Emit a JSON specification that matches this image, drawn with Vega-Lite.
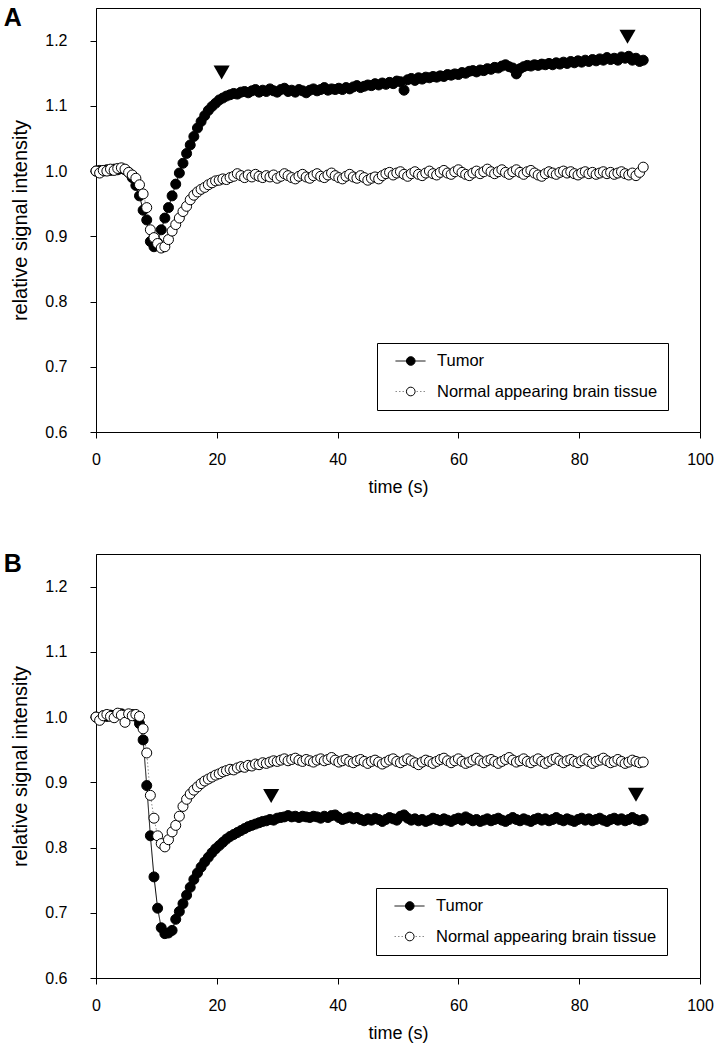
{
  "$schema": "https://vega.github.io/schema/vega-lite/v6.json",
  "background": "white",
  "padding": {"left": 3, "top": 5, "right": 5, "bottom": 5},
  "config": {
    "font": "Liberation Sans",
    "view": {"stroke": "black", "strokeWidth": 1},
    "axis": {"domainColor": "black", "tickColor": "black", "labelColor": "black", "titleColor": "black", "grid": false, "labelFontSize": 16, "titleFontSize": 18, "titleFontWeight": "normal", "tickSize": 6, "domainWidth": 1, "tickWidth": 1},
    "axisX": {"labelPadding": 13, "titlePadding": 11, "labelFlush": false},
    "axisY": {"labelPadding": 23, "titlePadding": 14, "titleFontSize": 20},
    "legend": {"clipHeight": 16, "padding": 10, "rowPadding": 13.5, "labelFontSize": 16.5, "labelLimit": 0, "title": null},
    "title": {"fontSize": 25, "fontWeight": "bold", "anchor": "start", "frame": "bounds", "baseline": "top", "offset": -23, "dx": -7, "color": "black"}
  },
  "datasets": {
    "A": [
      {"t":0,"Tumor":1.000,"Normal":1.000},{"t":0.6,"Tumor":1.001,"Normal":0.997},{"t":1.2,"Tumor":1.000,"Normal":1.001},{"t":1.8,"Tumor":1.002,"Normal":1.000},{"t":2.4,"Tumor":1.001,"Normal":1.003},{"t":3,"Tumor":1.003,"Normal":1.001},{"t":3.6,"Tumor":1.002,"Normal":1.004},{"t":4.2,"Tumor":1.004,"Normal":1.005},{"t":4.8,"Tumor":1.002,"Normal":1.003},{"t":5.4,"Tumor":0.998,"Normal":0.998},
      {"t":6,"Tumor":0.990,"Normal":0.994},{"t":6.6,"Tumor":0.978,"Normal":0.989},{"t":7.2,"Tumor":0.962,"Normal":0.979},{"t":7.8,"Tumor":0.940,"Normal":0.965},{"t":8.4,"Tumor":0.925,"Normal":0.944},{"t":9,"Tumor":0.892,"Normal":0.910},{"t":9.6,"Tumor":0.884,"Normal":0.898},{"t":10.2,"Tumor":0.890,"Normal":0.889},{"t":10.8,"Tumor":0.910,"Normal":0.882},{"t":11.4,"Tumor":0.928,"Normal":0.884},
      {"t":12,"Tumor":0.944,"Normal":0.895},{"t":12.6,"Tumor":0.962,"Normal":0.908},{"t":13.2,"Tumor":0.980,"Normal":0.918},{"t":13.8,"Tumor":0.997,"Normal":0.928},{"t":14.4,"Tumor":1.012,"Normal":0.938},{"t":15,"Tumor":1.027,"Normal":0.946},{"t":15.6,"Tumor":1.040,"Normal":0.956},{"t":16.2,"Tumor":1.053,"Normal":0.963},{"t":16.8,"Tumor":1.066,"Normal":0.968},{"t":17.4,"Tumor":1.076,"Normal":0.972},
      {"t":18,"Tumor":1.085,"Normal":0.975},{"t":18.6,"Tumor":1.093,"Normal":0.979},{"t":19.2,"Tumor":1.099,"Normal":0.982},{"t":19.8,"Tumor":1.104,"Normal":0.985},{"t":20.4,"Tumor":1.109,"Normal":0.986},{"t":21,"Tumor":1.112,"Normal":0.988},{"t":21.6,"Tumor":1.115,"Normal":0.987},{"t":22.2,"Tumor":1.117,"Normal":0.990},{"t":22.8,"Tumor":1.119,"Normal":0.992},{"t":23.4,"Tumor":1.118,"Normal":0.996},
      {"t":24,"Tumor":1.121,"Normal":0.993},{"t":24.6,"Tumor":1.122,"Normal":0.990},{"t":25.2,"Tumor":1.120,"Normal":0.994},{"t":25.8,"Tumor":1.123,"Normal":0.991},{"t":26.4,"Tumor":1.125,"Normal":0.995},{"t":27,"Tumor":1.121,"Normal":0.992},{"t":27.6,"Tumor":1.124,"Normal":0.990},{"t":28.2,"Tumor":1.122,"Normal":0.993},{"t":28.8,"Tumor":1.126,"Normal":0.991},{"t":29.4,"Tumor":1.123,"Normal":0.994},
      {"t":30,"Tumor":1.121,"Normal":0.989},{"t":30.6,"Tumor":1.125,"Normal":0.992},{"t":31.2,"Tumor":1.127,"Normal":0.996},{"t":31.8,"Tumor":1.122,"Normal":0.993},{"t":32.4,"Tumor":1.124,"Normal":0.990},{"t":33,"Tumor":1.121,"Normal":0.988},{"t":33.6,"Tumor":1.125,"Normal":0.992},{"t":34.2,"Tumor":1.123,"Normal":0.995},{"t":34.8,"Tumor":1.120,"Normal":0.991},{"t":35.4,"Tumor":1.124,"Normal":0.989},
      {"t":36,"Tumor":1.126,"Normal":0.993},{"t":36.6,"Tumor":1.123,"Normal":0.996},{"t":37.2,"Tumor":1.125,"Normal":0.992},{"t":37.8,"Tumor":1.128,"Normal":0.990},{"t":38.4,"Tumor":1.124,"Normal":0.994},{"t":39,"Tumor":1.126,"Normal":0.997},{"t":39.6,"Tumor":1.125,"Normal":0.993},{"t":40.2,"Tumor":1.127,"Normal":0.990},{"t":40.8,"Tumor":1.125,"Normal":0.988},{"t":41.4,"Tumor":1.128,"Normal":0.992},
      {"t":42,"Tumor":1.126,"Normal":0.995},{"t":42.6,"Tumor":1.129,"Normal":0.991},{"t":43.2,"Tumor":1.131,"Normal":0.989},{"t":43.8,"Tumor":1.128,"Normal":0.993},{"t":44.4,"Tumor":1.130,"Normal":0.990},{"t":45,"Tumor":1.132,"Normal":0.986},{"t":45.6,"Tumor":1.131,"Normal":0.989},{"t":46.2,"Tumor":1.134,"Normal":0.991},{"t":46.8,"Tumor":1.132,"Normal":0.988},{"t":47.4,"Tumor":1.135,"Normal":0.993},
      {"t":48,"Tumor":1.133,"Normal":0.996},{"t":48.6,"Tumor":1.136,"Normal":0.998},{"t":49.2,"Tumor":1.134,"Normal":0.994},{"t":49.8,"Tumor":1.138,"Normal":0.997},{"t":50.4,"Tumor":1.137,"Normal":0.999},{"t":51,"Tumor":1.124,"Normal":0.995},{"t":51.6,"Tumor":1.140,"Normal":0.992},{"t":52.2,"Tumor":1.142,"Normal":0.996},{"t":52.8,"Tumor":1.139,"Normal":0.999},{"t":53.4,"Tumor":1.143,"Normal":0.995},
      {"t":54,"Tumor":1.141,"Normal":0.993},{"t":54.6,"Tumor":1.144,"Normal":0.997},{"t":55.2,"Tumor":1.143,"Normal":1.000},{"t":55.8,"Tumor":1.145,"Normal":0.996},{"t":56.4,"Tumor":1.144,"Normal":0.994},{"t":57,"Tumor":1.146,"Normal":0.998},{"t":57.6,"Tumor":1.145,"Normal":1.001},{"t":58.2,"Tumor":1.148,"Normal":0.997},{"t":58.8,"Tumor":1.147,"Normal":0.995},{"t":59.4,"Tumor":1.149,"Normal":0.999},
      {"t":60,"Tumor":1.148,"Normal":1.002},{"t":60.6,"Tumor":1.151,"Normal":0.998},{"t":61.2,"Tumor":1.150,"Normal":0.995},{"t":61.8,"Tumor":1.153,"Normal":0.993},{"t":62.4,"Tumor":1.154,"Normal":0.997},{"t":63,"Tumor":1.152,"Normal":1.000},{"t":63.6,"Tumor":1.155,"Normal":0.996},{"t":64.2,"Tumor":1.154,"Normal":0.999},{"t":64.8,"Tumor":1.157,"Normal":1.003},{"t":65.4,"Tumor":1.156,"Normal":0.999},
      {"t":66,"Tumor":1.159,"Normal":0.996},{"t":66.6,"Tumor":1.158,"Normal":0.999},{"t":67.2,"Tumor":1.161,"Normal":1.002},{"t":67.8,"Tumor":1.163,"Normal":0.998},{"t":68.4,"Tumor":1.160,"Normal":0.995},{"t":69,"Tumor":1.158,"Normal":0.999},{"t":69.6,"Tumor":1.149,"Normal":1.002},{"t":70.2,"Tumor":1.157,"Normal":0.998},{"t":70.8,"Tumor":1.160,"Normal":0.995},{"t":71.4,"Tumor":1.162,"Normal":0.999},
      {"t":72,"Tumor":1.161,"Normal":1.001},{"t":72.6,"Tumor":1.163,"Normal":0.997},{"t":73.2,"Tumor":1.162,"Normal":0.994},{"t":73.8,"Tumor":1.164,"Normal":0.992},{"t":74.4,"Tumor":1.163,"Normal":0.996},{"t":75,"Tumor":1.165,"Normal":0.999},{"t":75.6,"Tumor":1.163,"Normal":0.997},{"t":76.2,"Tumor":1.166,"Normal":0.995},{"t":76.8,"Tumor":1.164,"Normal":0.998},{"t":77.4,"Tumor":1.167,"Normal":1.000},
      {"t":78,"Tumor":1.165,"Normal":0.997},{"t":78.6,"Tumor":1.168,"Normal":0.999},{"t":79.2,"Tumor":1.166,"Normal":0.996},{"t":79.8,"Tumor":1.169,"Normal":0.994},{"t":80.4,"Tumor":1.167,"Normal":0.997},{"t":81,"Tumor":1.170,"Normal":0.999},{"t":81.6,"Tumor":1.168,"Normal":0.996},{"t":82.2,"Tumor":1.171,"Normal":0.998},{"t":82.8,"Tumor":1.169,"Normal":0.995},{"t":83.4,"Tumor":1.172,"Normal":0.997},
      {"t":84,"Tumor":1.170,"Normal":0.999},{"t":84.6,"Tumor":1.174,"Normal":0.996},{"t":85.2,"Tumor":1.171,"Normal":0.998},{"t":85.8,"Tumor":1.173,"Normal":0.995},{"t":86.4,"Tumor":1.170,"Normal":0.997},{"t":87,"Tumor":1.175,"Normal":0.999},{"t":87.6,"Tumor":1.173,"Normal":0.996},{"t":88.2,"Tumor":1.176,"Normal":0.994},{"t":88.8,"Tumor":1.170,"Normal":0.997},{"t":89.4,"Tumor":1.173,"Normal":0.993},
      {"t":90,"Tumor":1.168,"Normal":0.998},{"t":90.6,"Tumor":1.170,"Normal":1.006}
    ],
    "B": [
      {"t":0,"Tumor":1.000,"Normal":1.000},{"t":0.6,"Tumor":0.998,"Normal":0.995},{"t":1.2,"Tumor":1.002,"Normal":1.002},{"t":1.8,"Tumor":1.001,"Normal":1.004},{"t":2.4,"Tumor":1.003,"Normal":1.001},{"t":3,"Tumor":1.002,"Normal":0.999},{"t":3.6,"Tumor":1.004,"Normal":1.006},{"t":4.2,"Tumor":1.005,"Normal":1.003},{"t":4.8,"Tumor":1.002,"Normal":0.992},{"t":5.4,"Tumor":1.003,"Normal":1.005},
      {"t":6,"Tumor":1.004,"Normal":1.002},{"t":6.6,"Tumor":1.001,"Normal":1.004},{"t":7.2,"Tumor":0.990,"Normal":1.001},{"t":7.8,"Tumor":0.965,"Normal":0.982},{"t":8.4,"Tumor":0.895,"Normal":0.945},{"t":9,"Tumor":0.818,"Normal":0.880},{"t":9.6,"Tumor":0.755,"Normal":0.845},{"t":10.2,"Tumor":0.707,"Normal":0.818},{"t":10.8,"Tumor":0.677,"Normal":0.806},{"t":11.4,"Tumor":0.668,"Normal":0.801},
      {"t":12,"Tumor":0.669,"Normal":0.812},{"t":12.6,"Tumor":0.673,"Normal":0.824},{"t":13.2,"Tumor":0.690,"Normal":0.834},{"t":13.8,"Tumor":0.702,"Normal":0.848},{"t":14.4,"Tumor":0.714,"Normal":0.863},{"t":15,"Tumor":0.727,"Normal":0.874},{"t":15.6,"Tumor":0.739,"Normal":0.882},{"t":16.2,"Tumor":0.751,"Normal":0.888},{"t":16.8,"Tumor":0.761,"Normal":0.893},{"t":17.4,"Tumor":0.770,"Normal":0.898},
      {"t":18,"Tumor":0.778,"Normal":0.902},{"t":18.6,"Tumor":0.785,"Normal":0.905},{"t":19.2,"Tumor":0.792,"Normal":0.908},{"t":19.8,"Tumor":0.798,"Normal":0.911},{"t":20.4,"Tumor":0.803,"Normal":0.913},{"t":21,"Tumor":0.808,"Normal":0.916},{"t":21.6,"Tumor":0.813,"Normal":0.918},{"t":22.2,"Tumor":0.817,"Normal":0.920},{"t":22.8,"Tumor":0.820,"Normal":0.919},{"t":23.4,"Tumor":0.823,"Normal":0.922},
      {"t":24,"Tumor":0.826,"Normal":0.924},{"t":24.6,"Tumor":0.829,"Normal":0.923},{"t":25.2,"Tumor":0.832,"Normal":0.926},{"t":25.8,"Tumor":0.834,"Normal":0.925},{"t":26.4,"Tumor":0.836,"Normal":0.928},{"t":27,"Tumor":0.838,"Normal":0.927},{"t":27.6,"Tumor":0.840,"Normal":0.930},{"t":28.2,"Tumor":0.841,"Normal":0.929},{"t":28.8,"Tumor":0.843,"Normal":0.931},{"t":29.4,"Tumor":0.842,"Normal":0.933},
      {"t":30,"Tumor":0.845,"Normal":0.932},{"t":30.6,"Tumor":0.846,"Normal":0.934},{"t":31.2,"Tumor":0.847,"Normal":0.936},{"t":31.8,"Tumor":0.849,"Normal":0.933},{"t":32.4,"Tumor":0.847,"Normal":0.935},{"t":33,"Tumor":0.848,"Normal":0.937},{"t":33.6,"Tumor":0.846,"Normal":0.934},{"t":34.2,"Tumor":0.848,"Normal":0.932},{"t":34.8,"Tumor":0.847,"Normal":0.935},{"t":35.4,"Tumor":0.846,"Normal":0.933},
      {"t":36,"Tumor":0.848,"Normal":0.931},{"t":36.6,"Tumor":0.847,"Normal":0.934},{"t":37.2,"Tumor":0.845,"Normal":0.936},{"t":37.8,"Tumor":0.848,"Normal":0.933},{"t":38.4,"Tumor":0.846,"Normal":0.935},{"t":39,"Tumor":0.849,"Normal":0.938},{"t":39.6,"Tumor":0.850,"Normal":0.934},{"t":40.2,"Tumor":0.846,"Normal":0.931},{"t":40.8,"Tumor":0.843,"Normal":0.933},{"t":41.4,"Tumor":0.845,"Normal":0.935},
      {"t":42,"Tumor":0.847,"Normal":0.932},{"t":42.6,"Tumor":0.844,"Normal":0.930},{"t":43.2,"Tumor":0.846,"Normal":0.933},{"t":43.8,"Tumor":0.843,"Normal":0.935},{"t":44.4,"Tumor":0.841,"Normal":0.932},{"t":45,"Tumor":0.844,"Normal":0.929},{"t":45.6,"Tumor":0.842,"Normal":0.932},{"t":46.2,"Tumor":0.845,"Normal":0.934},{"t":46.8,"Tumor":0.843,"Normal":0.931},{"t":47.4,"Tumor":0.840,"Normal":0.928},
      {"t":48,"Tumor":0.843,"Normal":0.931},{"t":48.6,"Tumor":0.846,"Normal":0.934},{"t":49.2,"Tumor":0.844,"Normal":0.936},{"t":49.8,"Tumor":0.842,"Normal":0.932},{"t":50.4,"Tumor":0.848,"Normal":0.930},{"t":51,"Tumor":0.850,"Normal":0.933},{"t":51.6,"Tumor":0.845,"Normal":0.936},{"t":52.2,"Tumor":0.842,"Normal":0.933},{"t":52.8,"Tumor":0.844,"Normal":0.930},{"t":53.4,"Tumor":0.841,"Normal":0.927},
      {"t":54,"Tumor":0.843,"Normal":0.931},{"t":54.6,"Tumor":0.840,"Normal":0.934},{"t":55.2,"Tumor":0.842,"Normal":0.932},{"t":55.8,"Tumor":0.845,"Normal":0.929},{"t":56.4,"Tumor":0.843,"Normal":0.932},{"t":57,"Tumor":0.841,"Normal":0.935},{"t":57.6,"Tumor":0.844,"Normal":0.937},{"t":58.2,"Tumor":0.842,"Normal":0.933},{"t":58.8,"Tumor":0.840,"Normal":0.930},{"t":59.4,"Tumor":0.843,"Normal":0.933},
      {"t":60,"Tumor":0.845,"Normal":0.936},{"t":60.6,"Tumor":0.842,"Normal":0.932},{"t":61.2,"Tumor":0.847,"Normal":0.929},{"t":61.8,"Tumor":0.844,"Normal":0.931},{"t":62.4,"Tumor":0.841,"Normal":0.934},{"t":63,"Tumor":0.843,"Normal":0.937},{"t":63.6,"Tumor":0.840,"Normal":0.933},{"t":64.2,"Tumor":0.842,"Normal":0.930},{"t":64.8,"Tumor":0.844,"Normal":0.933},{"t":65.4,"Tumor":0.841,"Normal":0.935},
      {"t":66,"Tumor":0.843,"Normal":0.932},{"t":66.6,"Tumor":0.845,"Normal":0.929},{"t":67.2,"Tumor":0.842,"Normal":0.932},{"t":67.8,"Tumor":0.840,"Normal":0.935},{"t":68.4,"Tumor":0.843,"Normal":0.938},{"t":69,"Tumor":0.846,"Normal":0.934},{"t":69.6,"Tumor":0.843,"Normal":0.931},{"t":70.2,"Tumor":0.841,"Normal":0.933},{"t":70.8,"Tumor":0.844,"Normal":0.936},{"t":71.4,"Tumor":0.842,"Normal":0.932},
      {"t":72,"Tumor":0.840,"Normal":0.930},{"t":72.6,"Tumor":0.843,"Normal":0.933},{"t":73.2,"Tumor":0.845,"Normal":0.936},{"t":73.8,"Tumor":0.842,"Normal":0.932},{"t":74.4,"Tumor":0.844,"Normal":0.929},{"t":75,"Tumor":0.841,"Normal":0.932},{"t":75.6,"Tumor":0.843,"Normal":0.935},{"t":76.2,"Tumor":0.846,"Normal":0.937},{"t":76.8,"Tumor":0.843,"Normal":0.933},{"t":77.4,"Tumor":0.841,"Normal":0.930},
      {"t":78,"Tumor":0.844,"Normal":0.933},{"t":78.6,"Tumor":0.842,"Normal":0.935},{"t":79.2,"Tumor":0.840,"Normal":0.932},{"t":79.8,"Tumor":0.843,"Normal":0.930},{"t":80.4,"Tumor":0.845,"Normal":0.933},{"t":81,"Tumor":0.842,"Normal":0.936},{"t":81.6,"Tumor":0.844,"Normal":0.932},{"t":82.2,"Tumor":0.841,"Normal":0.929},{"t":82.8,"Tumor":0.843,"Normal":0.932},{"t":83.4,"Tumor":0.845,"Normal":0.934},
      {"t":84,"Tumor":0.842,"Normal":0.937},{"t":84.6,"Tumor":0.840,"Normal":0.933},{"t":85.2,"Tumor":0.843,"Normal":0.930},{"t":85.8,"Tumor":0.845,"Normal":0.932},{"t":86.4,"Tumor":0.842,"Normal":0.935},{"t":87,"Tumor":0.844,"Normal":0.932},{"t":87.6,"Tumor":0.841,"Normal":0.929},{"t":88.2,"Tumor":0.843,"Normal":0.931},{"t":88.8,"Tumor":0.846,"Normal":0.934},{"t":89.4,"Tumor":0.843,"Normal":0.932},
      {"t":90,"Tumor":0.841,"Normal":0.930},{"t":90.6,"Tumor":0.843,"Normal":0.931}
    ],
    "markA": [{"t":20.8,"v":1.151},{"t":88.0,"v":1.206}],
    "markB": [{"t":29.0,"v":0.879},{"t":89.4,"v":0.881}]
  },
  "spacing": 54,
  "resolve": {
    "scale": {"color": "independent", "fill": "independent", "strokeDash": "independent"},
    "legend": {"color": "independent", "fill": "independent", "strokeDash": "independent"}
  },
  "vconcat": [
    {
      "title": {"text": "A"},
      "width": 604,
      "height": 424,
      "layer": [
        {
          "data": {"name": "A"},
          "transform": [{"fold": ["Tumor", "Normal"], "as": ["series", "v"]}],
          "mark": {"type": "line", "strokeWidth": 1},
          "encoding": {
            "x": {"field": "t", "type": "quantitative", "scale": {"domain": [0, 100]}, "axis": {"values": [0, 20, 40, 60, 80, 100], "title": "time (s)"}},
            "y": {"field": "v", "type": "quantitative", "scale": {"domain": [0.6, 1.25]}, "axis": {"values": [0.6, 0.7, 0.8, 0.9, 1.0, 1.1, 1.2], "format": ".1f", "title": "relative signal intensity"}},
            "color": {"field": "series", "type": "nominal", "scale": {"domain": ["Tumor", "Normal"], "range": ["black", "#8c8c8c"]},
              "legend": {"orient": "none", "legendX": 281, "legendY": 335, "symbolType": "stroke", "symbolSize": 900, "symbolStrokeWidth": 1, "symbolOffset": 8, "labelOffset": 11, "labelColor": "black", "strokeColor": "black", "labelExpr": "datum.label == 'Normal' ? 'Normal appearing brain tissue' : datum.label"}},
            "strokeDash": {"field": "series", "type": "nominal", "scale": {"domain": ["Tumor", "Normal"], "range": [[1, 0], [1.5, 2]]},
              "legend": {"orient": "none", "legendX": 281, "legendY": 335, "symbolType": "stroke", "symbolSize": 900, "symbolStrokeWidth": 1, "symbolOffset": 8, "labelOffset": 11, "labelColor": "black", "strokeColor": "black", "labelExpr": "datum.label == 'Normal' ? 'Normal appearing brain tissue' : datum.label"}}
          }
        },
        {
          "data": {"name": "A"},
          "transform": [{"fold": ["Tumor", "Normal"], "as": ["series", "v"]}],
          "mark": {"type": "point", "shape": "circle", "filled": true, "size": 100, "stroke": "black", "strokeWidth": 1, "opacity": 1},
          "encoding": {
            "x": {"field": "t", "type": "quantitative"},
            "y": {"field": "v", "type": "quantitative"},
            "order": {"field": "series", "sort": "descending"},
            "fill": {"field": "series", "type": "nominal", "sort": "descending", "scale": {"range": ["black", "white"]},
              "legend": {"orient": "none", "legendX": 281, "legendY": 335, "symbolType": "circle", "symbolSize": 75, "symbolStrokeColor": "black", "symbolStrokeWidth": 1, "symbolOpacity": 1, "symbolOffset": 15.5, "labelOffset": 0, "labelExpr": "''"}}
          }
        },
        {
          "data": {"name": "markA"},
          "mark": {"type": "point", "shape": "triangle-down", "filled": true, "color": "black", "size": 260, "opacity": 1},
          "encoding": {
            "x": {"field": "t", "type": "quantitative"},
            "y": {"field": "v", "type": "quantitative"}
          }
        }
      ]
    },
    {
      "title": {"text": "B"},
      "width": 604,
      "height": 424,
      "layer": [
        {
          "data": {"name": "B"},
          "transform": [{"fold": ["Tumor", "Normal"], "as": ["series", "v"]}],
          "mark": {"type": "line", "strokeWidth": 1},
          "encoding": {
            "x": {"field": "t", "type": "quantitative", "scale": {"domain": [0, 100]}, "axis": {"values": [0, 20, 40, 60, 80, 100], "title": "time (s)"}},
            "y": {"field": "v", "type": "quantitative", "scale": {"domain": [0.6, 1.25]}, "axis": {"values": [0.6, 0.7, 0.8, 0.9, 1.0, 1.1, 1.2], "format": ".1f", "title": "relative signal intensity"}},
            "color": {"field": "series", "type": "nominal", "scale": {"domain": ["Tumor", "Normal"], "range": ["black", "#8c8c8c"]},
              "legend": {"orient": "none", "legendX": 280, "legendY": 334, "symbolType": "stroke", "symbolSize": 900, "symbolStrokeWidth": 1, "symbolOffset": 8, "labelOffset": 11, "labelColor": "black", "strokeColor": "black", "labelExpr": "datum.label == 'Normal' ? 'Normal appearing brain tissue' : datum.label"}},
            "strokeDash": {"field": "series", "type": "nominal", "scale": {"domain": ["Tumor", "Normal"], "range": [[1, 0], [1.5, 2]]},
              "legend": {"orient": "none", "legendX": 280, "legendY": 334, "symbolType": "stroke", "symbolSize": 900, "symbolStrokeWidth": 1, "symbolOffset": 8, "labelOffset": 11, "labelColor": "black", "strokeColor": "black", "labelExpr": "datum.label == 'Normal' ? 'Normal appearing brain tissue' : datum.label"}}
          }
        },
        {
          "data": {"name": "B"},
          "transform": [{"fold": ["Tumor", "Normal"], "as": ["series", "v"]}],
          "mark": {"type": "point", "shape": "circle", "filled": true, "size": 100, "stroke": "black", "strokeWidth": 1, "opacity": 1},
          "encoding": {
            "x": {"field": "t", "type": "quantitative"},
            "y": {"field": "v", "type": "quantitative"},
            "order": {"field": "series", "sort": "descending"},
            "fill": {"field": "series", "type": "nominal", "sort": "descending", "scale": {"range": ["black", "white"]},
              "legend": {"orient": "none", "legendX": 280, "legendY": 334, "symbolType": "circle", "symbolSize": 75, "symbolStrokeColor": "black", "symbolStrokeWidth": 1, "symbolOpacity": 1, "symbolOffset": 15.5, "labelOffset": 0, "labelExpr": "''"}}
          }
        },
        {
          "data": {"name": "markB"},
          "mark": {"type": "point", "shape": "triangle-down", "filled": true, "color": "black", "size": 260, "opacity": 1},
          "encoding": {
            "x": {"field": "t", "type": "quantitative"},
            "y": {"field": "v", "type": "quantitative"}
          }
        }
      ]
    }
  ]
}
